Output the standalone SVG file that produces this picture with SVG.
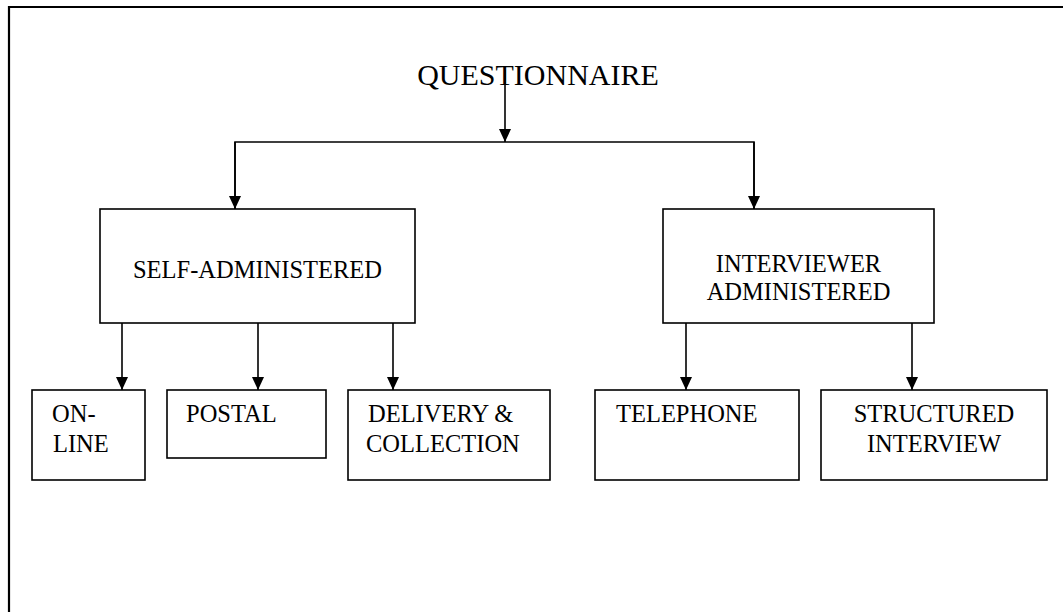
<svg xmlns="http://www.w3.org/2000/svg" width="1063" height="612" viewBox="0 0 1063 612">
<style>
.box{fill:#fff;stroke:#000;stroke-width:1.6}
.lbl{font-family:"Liberation Serif","Times New Roman",serif;font-size:24.5px;fill:#000}
.c{text-anchor:middle}
.ln{fill:none;stroke:#000;stroke-width:1.6}
</style>
<defs>
<marker id="ah" markerWidth="13" markerHeight="12" refX="13" refY="6" orient="auto" markerUnits="userSpaceOnUse">
<path d="M0,0 L13,6 L0,12 Z" fill="#000"/>
</marker>
</defs>
<rect width="1063" height="612" fill="#fff"/>
<path d="M9,612 V7 H1063" fill="none" stroke="#000" stroke-width="2.2"/>
<g id="n-questionnaire">
<text class="lbl c" x="538" y="85" style="font-size:30px">QUESTIONNAIRE</text>
</g>
<g id="n-self">
<rect class="box" x="100" y="209" width="315" height="114"/>
<text class="lbl c" x="257.5" y="278">SELF-ADMINISTERED</text>
</g>
<g id="n-interviewer">
<rect class="box" x="663" y="209" width="271" height="114"/>
<text class="lbl c" x="798.5" y="272">INTERVIEWER</text>
<text class="lbl c" x="798.5" y="300">ADMINISTERED</text>
</g>
<g id="n-online">
<rect class="box" x="32" y="390" width="113" height="90"/>
<text class="lbl" x="52" y="422">ON-</text>
<text class="lbl" x="53" y="452">LINE</text>
</g>
<g id="n-postal">
<rect class="box" x="167" y="390" width="159" height="68"/>
<text class="lbl" x="186" y="422">POSTAL</text>
</g>
<g id="n-delivery">
<rect class="box" x="348" y="390" width="202" height="90"/>
<text class="lbl" x="368" y="422">DELIVERY &amp;</text>
<text class="lbl" x="366" y="452">COLLECTION</text>
</g>
<g id="n-telephone">
<rect class="box" x="595" y="390" width="204" height="90"/>
<text class="lbl" x="616" y="422">TELEPHONE</text>
</g>
<g id="n-structured">
<rect class="box" x="821" y="390" width="226" height="90"/>
<text class="lbl c" x="934" y="422">STRUCTURED</text>
<text class="lbl c" x="934" y="452">INTERVIEW</text>
</g>
<g id="connectors">
<path class="ln" d="M505,70 V142" marker-end="url(#ah)"/>
<path class="ln" d="M235,209 V142 H754 V209" />
<path class="ln" d="M235,142 V209" marker-end="url(#ah)"/>
<path class="ln" d="M754,142 V209" marker-end="url(#ah)"/>
<path class="ln" d="M122,323 V390" marker-end="url(#ah)"/>
<path class="ln" d="M258,323 V390" marker-end="url(#ah)"/>
<path class="ln" d="M393,323 V390" marker-end="url(#ah)"/>
<path class="ln" d="M686,323 V390" marker-end="url(#ah)"/>
<path class="ln" d="M912,323 V390" marker-end="url(#ah)"/>
</g>
</svg>
